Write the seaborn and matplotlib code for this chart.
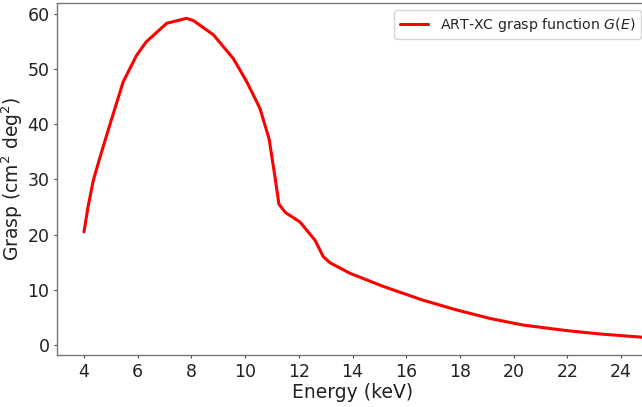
import numpy as np
import pandas as pd
import seaborn as sns
import matplotlib.pyplot as plt

# Grasp curve
energy = [4.0, 4.15, 4.35, 4.6, 5.0, 5.46, 5.96, 6.31, 7.08, 7.82, 8.07, 8.82,
          9.56, 10.06, 10.55, 10.89, 11.11, 11.26, 11.5, 12.04, 12.6, 12.91,
          13.16, 13.9, 15.15, 16.6, 17.88, 19.12, 20.36, 21.98, 23.2, 24.8, 25.0]
grasp = [20.5, 25.0, 29.9, 34.1, 40.5, 47.7, 52.5, 54.9, 58.3, 59.2, 58.8, 56.2,
         51.9, 47.7, 42.9, 37.4, 30.5, 25.5, 24.0, 22.3, 19.0, 16.0,
         14.9, 13.0, 10.6, 8.15, 6.34, 4.8, 3.6, 2.6, 2.0, 1.4, 1.35]
xticks = list(range(4, 25, 2))
yticks = list(range(0, 61, 10))

df = pd.DataFrame({"Energy": energy, "Grasp": grasp})

sns.set_style("white")
fig, ax = plt.subplots(figsize=(6.42, 4.07), dpi=100)
# axes runs slightly past the right edge, as in the cropped reference
fig.subplots_adjust(left=0.089, right=1.0093, top=0.993, bottom=0.128)

sns.lineplot(data=df, x="Energy", y="Grasp", color="red", linewidth=2.2,
             label="ART-XC grasp function $G(E)$", ax=ax)

ax.set_xlim(3.0, 25.0)
ax.set_ylim(-1.8, 62.0)
ax.set_xticks(xticks)
ax.set_yticks(yticks)
ax.tick_params(axis="both", labelsize=12.5, length=2.5, width=0.8, color="#444444",
               labelcolor="#222222", bottom=True, left=True, pad=3)
ax.set_xlabel("Energy (keV)", fontsize=13.5, labelpad=2, color="#222222")
ax.set_ylabel("Grasp (cm$^2$ deg$^2$)", fontsize=13.5, labelpad=2, color="#222222")
for s in ax.spines.values():
    s.set_color("#777777")
    s.set_linewidth(1.0)
ax.legend(loc="upper right", fontsize=10.2, frameon=True)

plt.savefig("out.png", dpi=100)
